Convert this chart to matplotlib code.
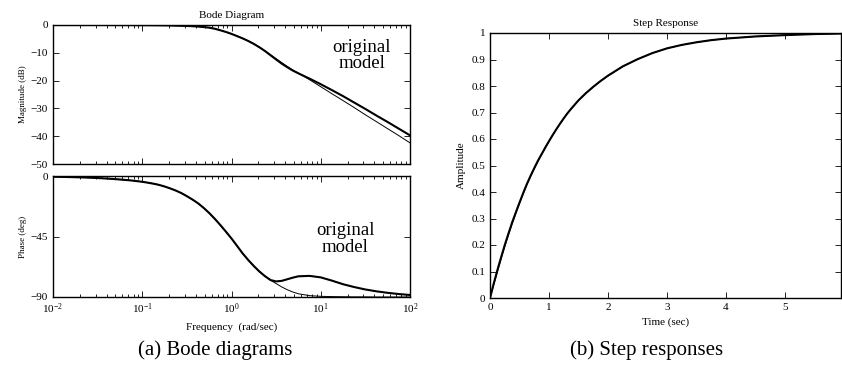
import numpy as np
import matplotlib
matplotlib.use("Agg")
from matplotlib import pyplot as plt
from matplotlib.ticker import LogLocator, NullFormatter

plt.rcParams['font.family'] = ['Liberation Serif', 'DejaVu Serif']
plt.rcParams['mathtext.fontset'] = 'custom'
plt.rcParams['mathtext.rm'] = 'Liberation Serif'
plt.rcParams['mathtext.it'] = 'Liberation Serif:italic'
plt.rcParams['axes.unicode_minus'] = True

# ---- Bode magnitude (dB)
mag_w = [0.01, 0.0178, 0.0316, 0.0562, 0.1, 0.178, 0.316, 0.422, 0.562, 0.649,
         0.75, 0.866, 1.0, 1.155, 1.33, 1.54, 1.78, 2.05, 2.37, 2.74, 3.16, 3.65,
         4.22, 4.87, 5.62, 7.5, 10, 13.3, 17.8, 23.7, 31.6, 42.2, 56.2, 75, 100]
mag_orig = [0, 0, 0, -0.02, -0.05, -0.12, -0.33, -0.55, -0.95, -1.35,
            -1.9, -2.5, -3.2, -4.0, -4.8, -5.75, -6.8, -8.0, -9.35, -10.9, -12.4, -13.9,
            -15.2, -16.4, -17.4, -19.3, -21.3, -23.4, -25.6, -27.9, -30.2, -32.6,
            -34.9, -37.3, -39.7]
mag_reduced = [0, 0, 0, -0.02, -0.05, -0.12, -0.33, -0.55, -0.95, -1.35,
               -1.9, -2.5, -3.2, -4.0, -4.8, -5.75, -6.8, -8.0, -9.3, -10.7, -12.1, -13.5,
               -14.9, -16.2, -17.3, -19.7, -22.2, -24.7, -27.2, -29.7, -32.3, -34.8,
               -37.3, -39.8, -42.4]

# ---- Bode phase (deg)
ph_w = [0.01, 0.0133, 0.0178, 0.0237, 0.0316, 0.0422, 0.0562, 0.075, 0.1, 0.115,
        0.133, 0.154, 0.178, 0.205, 0.237, 0.274, 0.316, 0.365, 0.422, 0.487,
        0.562, 0.649, 0.75, 0.866, 1.0, 1.155, 1.33, 1.54, 1.78, 2.05, 2.37,
        2.74, 3.16, 3.65, 4.22, 4.87, 5.62, 7.5, 10, 13.3, 17.8, 23.7, 31.6,
        42.2, 56.2, 75, 100]
ph_orig = [-0.5, -0.7, -0.9, -1.15, -1.5, -2.0, -2.6, -3.3, -4.3, -4.95,
           -5.7, -6.6, -7.8, -9.2, -10.8, -12.7, -15.0, -17.5, -20.3, -23.7,
           -27.5, -31.8, -36.5, -41.4, -46.5, -52.0, -57.5, -62.5, -67.0, -71.0, -74.5,
           -77.4, -78.4, -78.0, -76.8, -75.6, -74.6, -74.3, -75.4, -77.8, -80.5, -82.6,
           -84.4, -85.8, -86.9, -87.8, -88.5]
ph_reduced = [-0.5, -0.7, -0.9, -1.15, -1.5, -2.0, -2.6, -3.3, -4.3, -4.95,
              -5.7, -6.6, -7.8, -9.2, -10.8, -12.7, -15.0, -17.5, -20.3, -23.7,
              -27.5, -31.8, -36.5, -41.4, -46.5, -52.0, -57.5, -62.5, -67.0, -71.0, -74.5,
              -77.6, -80.0, -82.5, -84.6, -86.3, -87.6, -89.0, -89.5, -89.7, -89.8, -89.9,
              -89.9, -90.0, -90.0, -90.0, -90.0]

# ---- step responses
t_step = [0, 0.0625, 0.125, 0.1875, 0.25, 0.3125, 0.375, 0.4375, 0.5, 0.5625,
          0.625, 0.6875, 0.75, 0.8125, 0.875, 0.9375, 1.0, 1.0625, 1.125, 1.1875,
          1.25, 1.3125, 1.375, 1.4375, 1.5, 1.625, 1.75, 1.875, 2.0, 2.25, 2.5,
          2.75, 3.0, 3.25, 3.5, 3.75, 4.0, 4.5, 5.0, 5.5, 5.95]
y_orig = [0, 0.054, 0.105, 0.153, 0.200, 0.243, 0.285, 0.323, 0.360, 0.396,
          0.430, 0.461, 0.490, 0.518, 0.543, 0.568, 0.592, 0.615, 0.637, 0.658,
          0.678, 0.697, 0.714, 0.730, 0.746, 0.773, 0.797, 0.819, 0.839, 0.874, 0.901,
          0.924, 0.942, 0.955, 0.965, 0.973, 0.979, 0.987, 0.992, 0.996, 0.998]
y_reduced = [0, 0.048, 0.098, 0.146, 0.193, 0.237, 0.279, 0.318, 0.356, 0.392,
             0.427, 0.458, 0.487, 0.515, 0.541, 0.566, 0.590, 0.614, 0.636, 0.657,
             0.677, 0.696, 0.713, 0.729, 0.745, 0.772, 0.796, 0.818, 0.838, 0.873, 0.901,
             0.924, 0.942, 0.955, 0.965, 0.973, 0.979, 0.987, 0.992, 0.996, 0.998]

mag_ticks = [0, -10, -20, -30, -40, -50]
ph_ticks = [0, -45, -90]
step_yticks = [0, 0.1, 0.2, 0.3, 0.4, 0.5, 0.6, 0.7, 0.8, 0.9, 1]
step_ylabels = ['0', '0.1', '0.2', '0.3', '0.4', '0.5', '0.6', '0.7', '0.8', '0.9', '1']
step_xticks = [0, 1, 2, 3, 4, 5]

W, H = 842, 373
fig = plt.figure(figsize=(W / 100, H / 100), dpi=100)


def box(l, t, r, b):
    return [l / W, 1 - b / H, (r - l) / W, (b - t) / H]


def style(ax):
    ax.tick_params(which='both', direction='in', top=True, right=True,
                   labelsize=8, colors='black', width=0.6)
    ax.tick_params(which='major', length=4)
    ax.tick_params(which='minor', length=2)
    for s in ax.spines.values():
        s.set_linewidth(1.0)


thick = dict(color='black', lw=1.5, solid_joinstyle='round')
thin = dict(color='black', lw=0.7, solid_joinstyle='round')

ax1 = fig.add_axes(box(53, 25, 410, 164))
ax1.semilogx(mag_w, mag_orig, **thick)
ax1.semilogx(mag_w, mag_reduced, **thin)
ax1.set_xlim(0.01, 100)
ax1.set_ylim(-50, 0)
ax1.set_yticks(mag_ticks)
ax1.set_yticklabels(['0', '\u221210', '\u221220', '\u221230', '\u221240', '\u221250'])
ax1.xaxis.set_minor_locator(LogLocator(base=10, subs=np.arange(2, 10)))
ax1.xaxis.set_major_formatter(NullFormatter())
ax1.xaxis.set_minor_formatter(NullFormatter())
ax1.set_ylabel('Magnitude (dB)', fontsize=6.5, labelpad=3)
ax1.set_title('Bode Diagram', fontsize=8, pad=5)
ax1.text(0.865, 0.78, 'original\nmodel', transform=ax1.transAxes, fontsize=13.5,
         ha='center', va='center', linespacing=0.95)
style(ax1)

ax2 = fig.add_axes(box(53, 176, 410, 297))
ax2.semilogx(ph_w, ph_orig, **thick)
ax2.semilogx(ph_w, ph_reduced, **thin)
ax2.set_xlim(0.01, 100)
ax2.set_ylim(-90, 0)
ax2.set_yticks(ph_ticks)
ax2.set_yticklabels(['0', '\u221245', '\u221290'])
ax2.set_xticks([0.01, 0.1, 1, 10, 100])
ax2.set_xticklabels(['$10^{-2}$', '$10^{-1}$', '$10^{0}$', '$10^{1}$', '$10^{2}$'])
ax2.xaxis.set_minor_locator(LogLocator(base=10, subs=np.arange(2, 10)))
ax2.xaxis.set_minor_formatter(NullFormatter())
ax2.set_ylabel('Phase (deg)', fontsize=6.5, labelpad=3)
ax2.set_xlabel('Frequency  (rad/sec)', fontsize=8, labelpad=4)
ax2.text(0.818, 0.48, 'original\nmodel', transform=ax2.transAxes, fontsize=13.5,
         ha='center', va='center', linespacing=0.95)
style(ax2)

ax3 = fig.add_axes(box(490, 33, 841, 298))
ax3.plot(t_step, y_orig, **thick)
ax3.plot(t_step, y_reduced, **thin)
ax3.set_xlim(0, 5.95)
ax3.set_ylim(0, 1)
ax3.set_xticks(step_xticks)
ax3.set_xticklabels([str(v) for v in step_xticks])
ax3.set_yticks(step_yticks)
ax3.set_yticklabels(step_ylabels)
ax3.set_ylabel('Amplitude', fontsize=8, labelpad=4)
ax3.set_xlabel('Time (sec)', fontsize=8, labelpad=4)
ax3.set_title('Step Response', fontsize=8, pad=5)
style(ax3)

fig.text(215 / W, 1 - 350 / H, '(a) Bode diagrams', fontsize=15, ha='center', va='center')
fig.text(647 / W, 1 - 350 / H, '(b) Step responses', fontsize=15, ha='center', va='center')

fig.savefig('out.png', dpi=100)
